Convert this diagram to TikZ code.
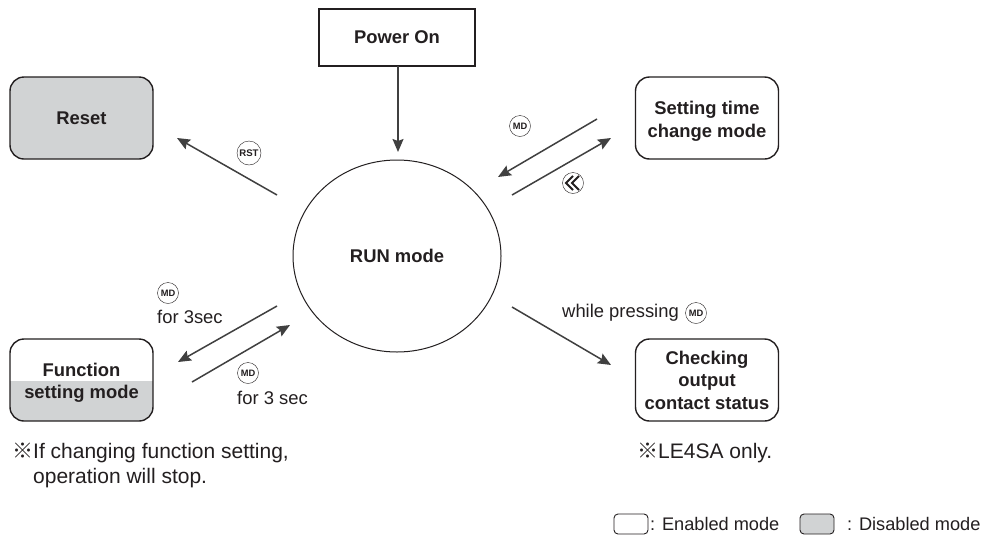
\documentclass[tikz,border=0pt]{standalone}
\usepackage{fontspec}
\setmainfont{Liberation Sans}
\newfontfamily\cjkf{Noto Sans CJK JP}
\usetikzlibrary{arrows.meta,shapes.geometric}
\definecolor{ink}{HTML}{231F20}
\definecolor{dis}{HTML}{D1D3D4}
\definecolor{arw}{HTML}{404040}
\tikzset{
  modebox/.style={draw=ink,line width=1.4pt,rounded corners=14pt,minimum width=143pt,minimum height=82pt,align=center,font=\fontsize{18.4}{22.5}\selectfont\bfseries,text=ink,inner sep=0pt},
  boxtext/.style={align=center,font=\fontsize{18.4}{22.5}\selectfont\bfseries,text=ink,inner sep=0pt},
  flow/.style={draw=arw,line width=1.5pt,-{Stealth[length=13pt,width=11pt,inset=2pt]}},
  icon/.style={circle,draw=ink,line width=0.4pt,minimum size=21pt,inner sep=0pt,font=\fontsize{9.3}{10}\selectfont\bfseries,text=ink},
  lbl/.style={font=\fontsize{18.4}{22}\selectfont,text=ink,inner sep=0pt},
  note/.style={font=\fontsize{21}{25}\selectfont,text=ink,inner sep=0pt},
  legendbox/.style={draw=ink,line width=0.9pt,rounded corners=4pt,minimum width=34pt,minimum height=20pt,inner sep=0pt},
  legendtext/.style={font=\fontsize{18.2}{22}\selectfont,text=ink,inner sep=0pt}
}
\begin{document}
\begin{tikzpicture}[x=1pt,y=-1pt]
\useasboundingbox (0,0) rectangle (987,536);
\fill[white] (0,0) rectangle (987,536);
% nodes
\node[draw=ink,line width=1.6pt,minimum width=156pt,minimum height=57pt,font=\fontsize{18.4}{22}\selectfont\bfseries,text=ink,inner sep=0pt] (power) at (397,37.5) {Power On};
\node[modebox,fill=dis] (reset) at (81.5,118) {Reset};
\node[modebox] (setting) at (707,118) {};
\node[boxtext] (settingText) at (707,121.5) {Setting time\\change mode};
\node[modebox] (check) at (707,380) {Checking\\output\\contact status};
\begin{scope}
\clip[rounded corners=14pt] (10,339) rectangle (153,421);
\fill[dis] (10,381) rectangle (153,421);
\end{scope}
\node[modebox] (func) at (81.5,380) {};
\node[boxtext] (funcText) at (81.5,383) {Function\\setting mode};
\node[ellipse,draw=ink,line width=1pt,minimum width=208pt,minimum height=192pt,inner sep=0pt,font=\fontsize{18.4}{22}\selectfont\bfseries,text=ink] (run) at (397,256) {RUN mode};
% free ends
\coordinate (pStart) at (398,66);
\coordinate (pEnd) at (398,152);
\coordinate (rstS) at (277,195); \coordinate (rstE) at (177,138);
\coordinate (mdS) at (597,119); \coordinate (mdE) at (498,177);
\coordinate (bkS) at (512,195); \coordinate (bkE) at (611,138);
\coordinate (fnS) at (277,306); \coordinate (fnE) at (178,362);
\coordinate (frS) at (192,382); \coordinate (frE) at (290,325);
\coordinate (chS) at (512,307); \coordinate (chE) at (611,365);
% connectors
\draw[flow] (pStart) -- (pEnd);
\draw[flow] (rstS) -- (rstE);
\draw[flow] (mdS) -- (mdE);
\draw[flow] (bkS) -- (bkE);
\draw[flow] (fnS) -- (fnE);
\draw[flow] (frS) -- (frE);
\draw[flow] (chS) -- (chE);
% icons
\node[icon,minimum size=24pt,font=\fontsize{9.6}{10}\selectfont\bfseries] (iRst) at (249,153) {RST};
\node[icon] (iTop) at (520,126) {MD};
\node[icon] (iBack) at (573,183) {};
\draw[ink,line width=2pt] ([shift={(0,-7)}]iBack.center) -- ++(-7,7) -- ++(7,7);
\draw[ink,line width=2pt] ([shift={(6,-7)}]iBack.center) -- ++(-7,7) -- ++(7,7);
\node[icon] (iF1) at (168,293) {MD};
\node[icon] (iF2) at (248,373) {MD};
\node[icon] (iCh) at (696,313) {MD};
% labels
\node[lbl,anchor=west] (tF1) at (157,317) {for 3sec};
\node[lbl,anchor=west] (tF2) at (237,398) {for 3 sec};
\node[lbl,anchor=east] (tCh) at (679,313) {while pressing};
\node[note,anchor=west] (n1) at (12,453) {{\cjkf ※}If changing function setting,};
\node[note,anchor=west] (n2) at (33,478) {operation will stop.};
\node[note,anchor=west] (n3) at (637,453) {{\cjkf ※}LE4SA only.};
% legend
\node[legendbox] (lgE) at (631,524) {};
\node[legendtext,anchor=west] (tE) at (650,524) {: Enabled mode};
\node[legendbox,fill=dis] (lgD) at (817,524) {};
\node[legendtext,anchor=west] (tD) at (847,524) {: Disabled mode};
\end{tikzpicture}
\end{document}
